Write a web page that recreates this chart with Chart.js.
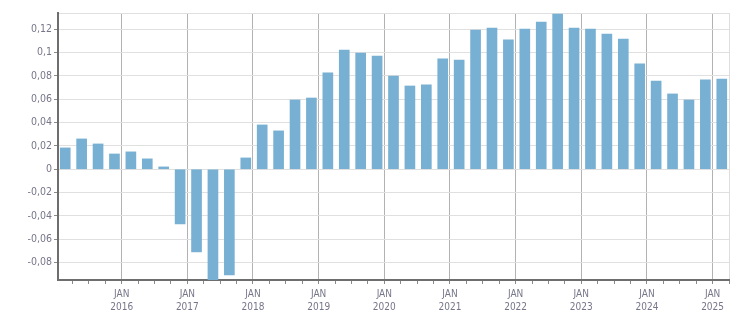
<!DOCTYPE html>
<html>
<head>
<meta charset="utf-8">
<script src="https://cdn.jsdelivr.net/npm/chart.js@4.4.1/dist/chart.umd.min.js"></script>
<style>
  body { margin: 0; background: #fff; }
</style>
</head>
<body>
<canvas id="myChart" width="751" height="313"></canvas>
<script>
// quarterly periods, 2015 Q1 .. 2025 Q1
const periods = [];
for (let y = 2015; y <= 2025; y++) {
    for (let q = 1; q <= 4; q++) {
        if (y === 2025 && q > 1) break;
        periods.push(y + 'Q' + q);
    }
}
const values = [
    0.0183, 0.026, 0.0217, 0.0131,
    0.0149, 0.0089, 0.002, -0.0469,
    -0.0709, -0.1, -0.0906, 0.0097,
    0.038, 0.0329, 0.0594, 0.0611,
    0.0826, 0.1023, 0.0997, 0.0971,
    0.08, 0.0714, 0.0723, 0.0946,
    0.0937, 0.1194, 0.1211, 0.1109,
    0.1203, 0.1263, 0.1331, 0.1211,
    0.1203, 0.116, 0.1117, 0.0903,
    0.0757, 0.0646, 0.0594, 0.0766,
    0.0774
];
const yearLabels = [2016, 2017, 2018, 2019, 2020, 2021, 2022, 2023, 2024, 2025];

// period -> fractional year (middle month of the quarter)
const toYear = (p) => parseInt(p.slice(0, 4), 10) + (parseInt(p.slice(5), 10) - 1) * 0.25 + 0.14;

const xMin = 2015.03, xMax = 2025.25;
const yMin = -0.095, yMax = 0.134;

const xTicks = [];
for (let v = 2015.25; v <= xMax + 1e-9; v += 0.25) xTicks.push(Math.round(v * 100) / 100);

const isYear = (v) => Math.abs(v - Math.round(v)) < 1e-6;
const textColor = '#76768a';
const fam = "'DejaVu Sans Condensed', 'DejaVu Sans', sans-serif";

let ctx = document.getElementById('myChart').getContext('2d');
let myChart = new Chart(ctx, {
    type: 'bar',
    data: {
        datasets: [{
            data: periods.map((p, i) => ({ x: toYear(p), y: values[i] })),
            backgroundColor: '#77b0d2',
            barThickness: 10
        }]
    },
    options: {
        responsive: false,
        animation: false,
        layout: { padding: { top: 13, right: 22, left: 0, bottom: 0 } },
        plugins: { legend: { display: false }, tooltip: { enabled: false } },
        scales: {
            x: {
                type: 'linear',
                offset: false,
                min: xMin,
                max: xMax,
                afterBuildTicks: (scale) => { scale.ticks = xTicks.map(v => ({ value: v })); },
                afterFit: (scale) => { scale.height = 33; },
                grid: {
                    offset: false,
                    color: (c) => {
                        const v = c.tick ? c.tick.value : 0;
                        if (Math.abs(v - xMax) < 1e-6) return '#dedede';
                        return isYear(v) ? '#b2b2b2' : 'rgba(0,0,0,0)';
                    },
                    tickColor: '#8a8a8a',
                    tickLength: 4,
                    lineWidth: 1
                },
                border: { color: '#6e6e6e', width: 2 },
                ticks: {
                    autoSkip: false,
                    maxRotation: 0,
                    padding: 4,
                    color: textColor,
                    font: { family: fam, size: 10, lineHeight: 1.3 },
                    callback: (v) => (isYear(v) && yearLabels.includes(Math.round(v))) ? ['JAN', String(Math.round(v))] : ''
                }
            },
            y: {
                min: yMin,
                max: yMax,
                afterFit: (scale) => { scale.width = 58; },
                afterBuildTicks: (scale) => {
                    const t = [];
                    for (let v = -0.08; v <= 0.12 + 1e-9; v += 0.02) t.push({ value: Math.round(v * 100) / 100 });
                    t.push({ value: yMax });
                    scale.ticks = t;
                },
                grid: {
                    color: '#e0e0e0',
                    tickColor: (c) => (c.tick && c.tick.value === yMax) ? 'rgba(0,0,0,0)' : '#8a8a8a',
                    tickLength: 4
                },
                border: { color: '#6e6e6e', width: 2 },
                ticks: {
                    padding: 2,
                    color: textColor,
                    font: { family: fam, size: 10.5 },
                    callback: (v) => v === yMax ? '' : String(Math.round(v * 100) / 100).replace('.', ',')
                }
            }
        }
    }
});
</script>
</body>
</html>
